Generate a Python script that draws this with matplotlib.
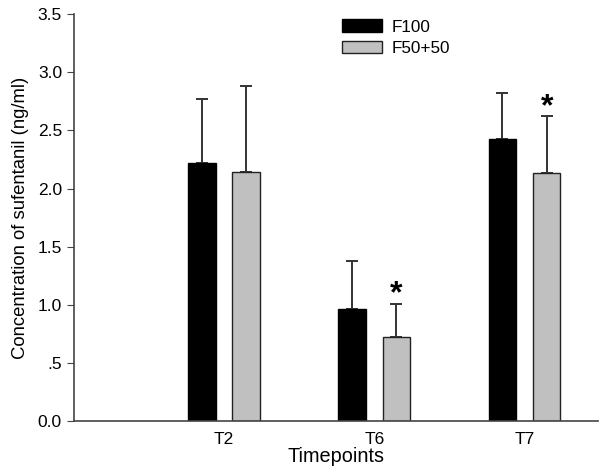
import numpy as np
import matplotlib.pyplot as plt

# 数据
timepoints = ['T2', 'T6', 'T7']
f100 = [2.22, 0.96, 2.43]
f100_err = [0.55, 0.42, 0.39]
f5050 = [2.14, 0.72, 2.13]
f5050_err = [0.74, 0.29, 0.49]
signif = [False, True, True]  # F50+50 vs F100

plt.rcParams['font.family'] = ['Liberation Sans', 'DejaVu Sans']

fig = plt.figure(figsize=(6, 4.75), dpi=100)
ax = fig.add_axes([0.123, 0.114, 0.874, 0.856])

x = np.arange(1, len(timepoints) + 1)
w = 0.183
off = 0.147

ax.bar(x - off, f100, w, color='black', edgecolor='black', linewidth=1, label='F100', zorder=3)
ax.bar(x + off, f5050, w, color='#c0c0c0', edgecolor='#222222', linewidth=1, label='F50+50', zorder=3)

# 只画上误差线
ekw = dict(fmt='none', ecolor='#333333', elinewidth=1.4, capsize=4.5, capthick=1.4, zorder=2)
ax.errorbar(x - off, f100, yerr=[np.zeros(3), f100_err], **ekw)
ax.errorbar(x + off, f5050, yerr=[np.zeros(3), f5050_err], **ekw)

# 显著性标记
for xi, v, e, s in zip(x + off, f5050, f5050_err, signif):
    if s:
        ax.text(xi, v + e + 0.01, '*', ha='center', va='baseline', fontsize=23, fontweight='bold')

ax.set_xlim(0, 3.49)
ax.set_ylim(0, 3.5)
ax.set_xticks(x)
ax.set_xticklabels(timepoints, fontsize=12.5)
ax.tick_params(axis='x', length=0, pad=8)
ax.set_yticks(np.arange(0, 3.51, 0.5))
ax.set_yticklabels(['0.0', '.5', '1.0', '1.5', '2.0', '2.5', '3.0', '3.5'], fontsize=12.5)
ax.tick_params(axis='y', direction='out', length=5, color='#444444')
ax.set_xlabel('Timepoints', fontsize=14.3, labelpad=0)
ax.set_ylabel('Concentration of sufentanil (ng/ml)', fontsize=13.3, labelpad=6)

for sp in ['top', 'right']:
    ax.spines[sp].set_visible(False)
for sp in ['left', 'bottom']:
    ax.spines[sp].set_color('#444444')
    ax.spines[sp].set_linewidth(1.2)
    ax.spines[sp].set_zorder(4)

ax.legend(loc='upper left', bbox_to_anchor=(0.483, 1.025), frameon=False, fontsize=12.3,
          handlelength=2.3, handleheight=0.76, labelspacing=0.35, handletextpad=0.55)

fig.savefig('out.png', dpi=100)
